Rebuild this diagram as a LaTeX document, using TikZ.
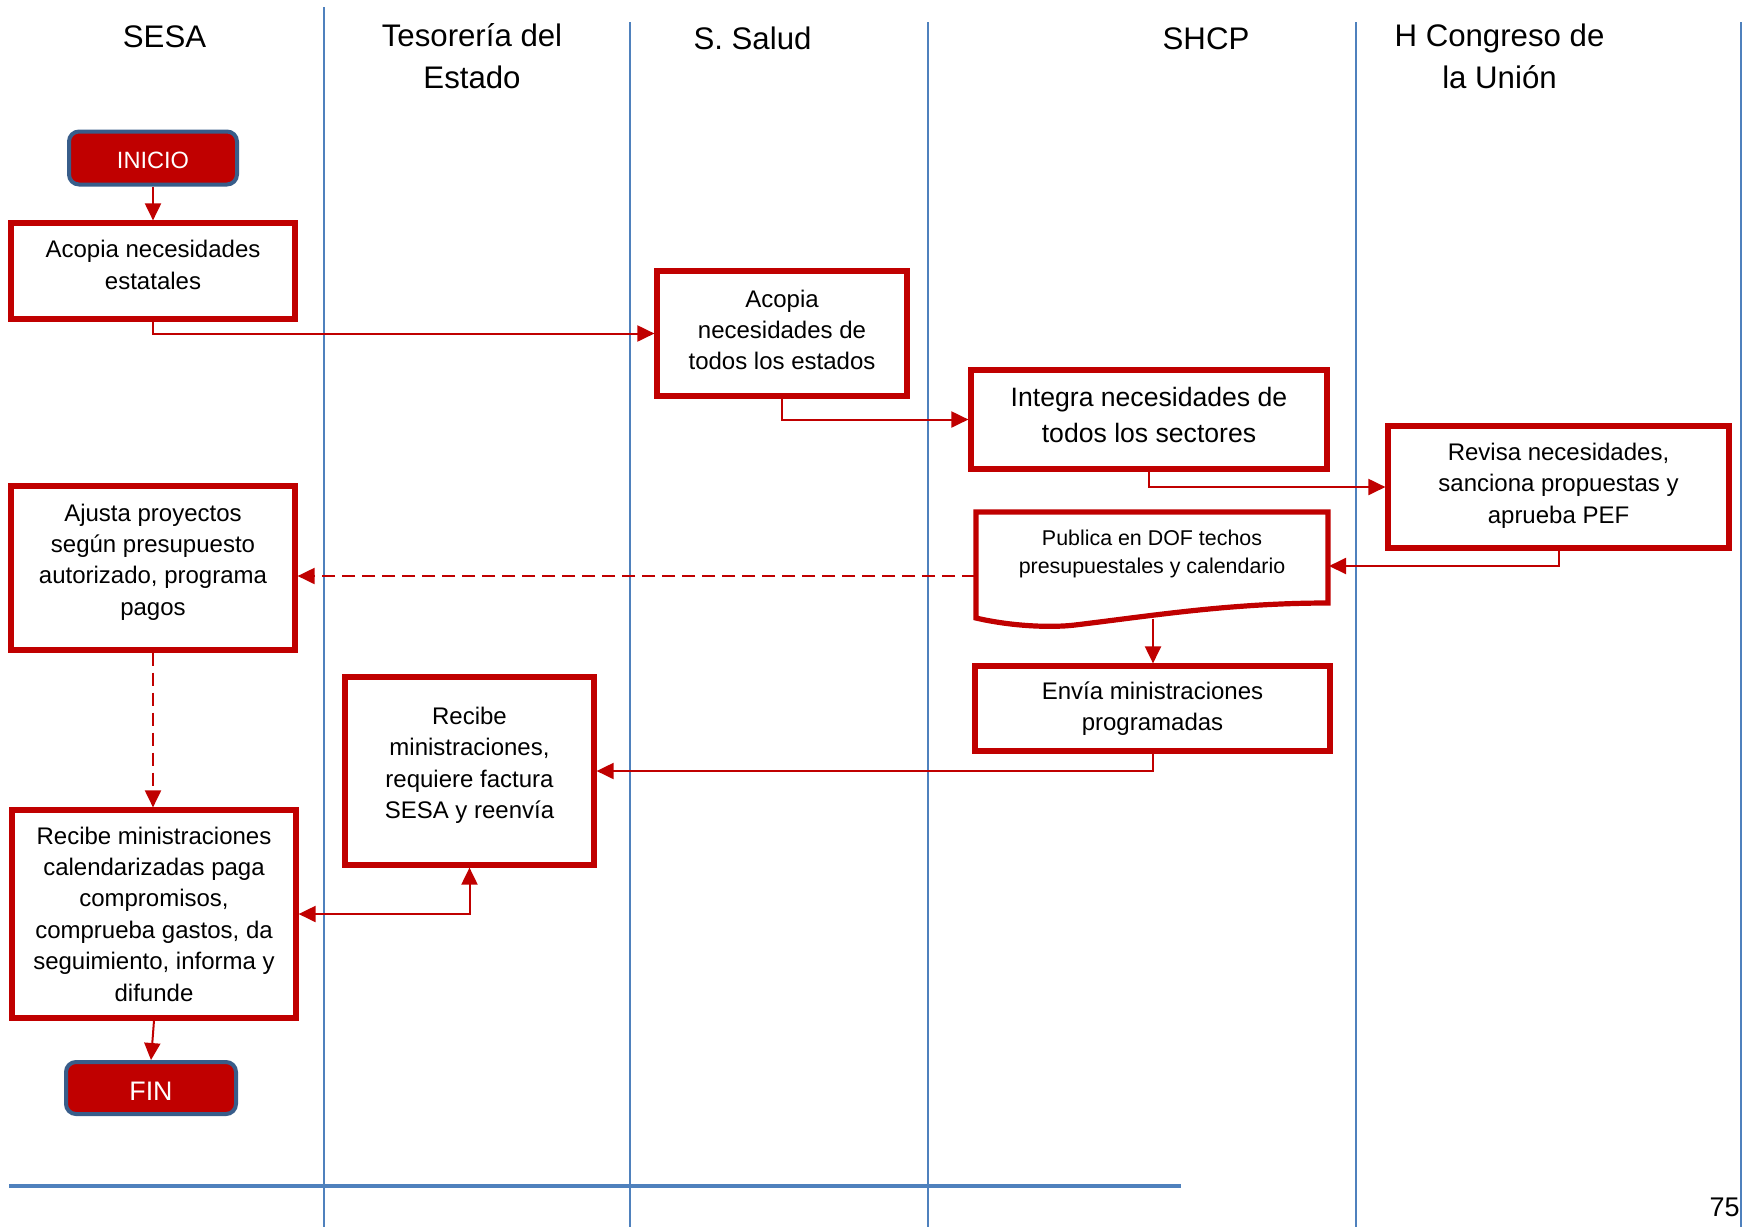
\documentclass[tikz,border=0pt]{standalone}
\usepackage{fontspec}
\setmainfont{Liberation Sans}
\usetikzlibrary{arrows.meta}
\definecolor{rd}{HTML}{C00000}
\definecolor{lane}{HTML}{4F81BD}
\definecolor{termb}{HTML}{385D8A}
\newcommand\shup[2]{\raisebox{#1}[\height][\depth]{\begin{tabular}{@{}c@{}}#2\end{tabular}}}
\begin{document}
\begin{tikzpicture}[x=0.5pt,y=-0.5pt,
  box/.style={draw=rd, line width=2.6pt, fill=white, align=center, inner sep=0pt, font=\fontsize{12}{15.7}\selectfont},
  termbox/.style={draw=termb, fill=rd, line width=2pt, rounded corners=5pt, text=white, inner sep=0pt},
  conn/.style={draw=rd, line width=1pt, -{Triangle[length=8.5pt,width=8pt]}},
  dconn/.style={conn, dash pattern=on 6.5pt off 3.5pt},
  lanel/.style={draw=lane, line width=1pt},
  hdr/.style={anchor=base, inner sep=0pt, font=\fontsize{15.6}{21}\selectfont},
]
\useasboundingbox (0,0) rectangle (1743,1227);

% lanes
\draw[lanel] (324,7) -- (324,1227);
\draw[lanel] (630,22) -- (630,1227);
\draw[lanel] (928,22) -- (928,1227);
\draw[lanel] (1356,22) -- (1356,1227);
\draw[lanel] (1741,22) -- (1741,1227);
\draw[draw=lane, line width=2pt] (9,1186) -- (1181,1186);

% headers
\node[hdr] (hsesa) at (164.5,47) {SESA};
\node[hdr] (htes) at (472,46) {\begin{tabular}[t]{@{}c@{}}Tesorería del\\Estado\end{tabular}};
\node[hdr] (hsalud) at (752.5,49) {S. Salud};
\node[hdr] (hshcp) at (1206,49) {SHCP};
\node[hdr] (hcong) at (1499.5,46) {\begin{tabular}[t]{@{}c@{}}H Congreso de\\la Unión\end{tabular}};

% nodes
\node[termbox, minimum width=84pt, minimum height=26.5pt, font=\fontsize{11.8}{14}\selectfont] (inicio) at (153,158) {\raisebox{-1pt}[\height][\depth]{INICIO}};
\node[box, minimum width=142pt, minimum height=48pt] (est) at (153,271) {\shup{1.8pt}{Acopia necesidades\\estatales}};
\node[box, minimum width=125pt, minimum height=62.5pt] (todos) at (782,333.5) {\shup{0.6pt}{Acopia\\necesidades de\\todos los estados}};
\node[box, minimum width=178pt, minimum height=49.5pt, font=\fontsize{13.3}{17.8}\selectfont] (integra) at (1149,419.5) {\shup{1.2pt}{Integra necesidades de\\todos los sectores}};
\node[box, minimum width=170.5pt, minimum height=61pt] (revisa) at (1558.5,487) {\shup{0.8pt}{Revisa necesidades,\\sanciona propuestas y\\aprueba PEF}};

\draw[draw=rd, line width=2.6pt, fill=white] (976,512) -- (1328,512) -- (1328,603)
  .. controls (1230,603) and (1150,616) .. (1075,625)
  .. controls (1050,628) and (1010,626) .. (976,618) -- cycle;
\node[align=center, inner sep=0pt, font=\fontsize{10.7}{14}\selectfont] (pub) at (1152,554) {Publica en DOF techos\\presupuestales y calendario};
\coordinate (pube) at (1329,566);
\coordinate (pubw) at (975,576);
\coordinate (pubs) at (1153,619);

\node[box, minimum width=177.5pt, minimum height=42.5pt] (envia) at (1152.5,708.5) {Envía ministraciones\\programadas};
\node[box, minimum width=142pt, minimum height=82pt] (ajusta) at (153,568) {\shup{3pt}{Ajusta proyectos\\según presupuesto\\autorizado, programa\\pagos}};
\node[box, minimum width=124.5pt, minimum height=94pt] (rtes) at (469.5,771) {\shup{2.8pt}{Recibe\\ministraciones,\\requiere factura\\SESA y reenvía}};
\node[box, minimum width=142pt, minimum height=104pt] (rcal) at (154,914) {Recibe ministraciones\\calendarizadas paga\\compromisos,\\comprueba gastos, da\\seguimiento, informa y\\difunde};
\node[termbox, minimum width=85pt, minimum height=26pt, font=\fontsize{13.4}{16}\selectfont] (fin) at (151,1088) {\raisebox{-1.5pt}[\height][\depth]{FIN}};

\node[anchor=base east, inner sep=0pt, font=\fontsize{13.5}{16}\selectfont] (pg) at (1740,1216) {75};

% connectors
\draw[conn] (inicio.south) -- (est.north);
\draw[conn] (est.south) |- (todos.west);
\draw[conn] (todos.south) |- (integra.west);
\draw[conn] (integra.south) |- (revisa.west);
\draw[conn] (revisa.south) |- (pube);
\draw[dconn] (pubw) -- (pubw -| ajusta.east);
\draw[conn] (pubs) -- (pubs |- envia.north);
\draw[conn] (envia.south) |- (rtes.east);
\draw[dconn] (ajusta.south) -- (ajusta.south |- rcal.north);
\draw[conn, {Triangle[length=8.5pt,width=8pt]}-{Triangle[length=8.5pt,width=8pt]}] (rtes.south) |- (rcal.east);
\draw[conn] (rcal.south) -- (fin.north);
\end{tikzpicture}
\end{document}
